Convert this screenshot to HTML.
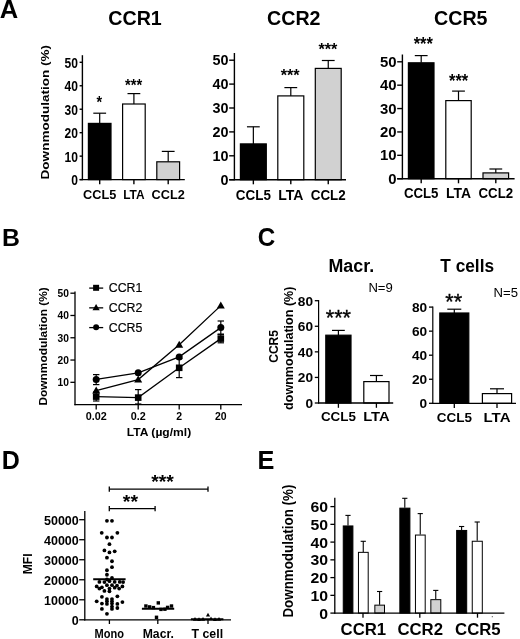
<!DOCTYPE html>
<html>
<head>
<meta charset="utf-8">
<title>Figure</title>
<style>
html, body { margin: 0; padding: 0; background: #ffffff; }
body { width: 520px; height: 639px; overflow: hidden; font-family: "Liberation Sans", sans-serif; }
svg { display: block; font-family: "Liberation Sans", sans-serif; filter: blur(0.5px); }
</style>
</head>
<body>
<svg width="520" height="639" viewBox="0 0 520 639">
<rect x="0" y="0" width="520" height="639" fill="#ffffff"/>
<text x="-0.20" y="17.50" font-size="25.5" font-weight="bold" text-anchor="start" fill="#000">A</text>
<text x="1.90" y="245.90" font-size="24.8" font-weight="bold" text-anchor="start" fill="#000">B</text>
<text x="257.70" y="245.60" font-size="25" font-weight="bold" text-anchor="start" fill="#000" textLength="17.50" lengthAdjust="spacingAndGlyphs">C</text>
<text x="1.80" y="468.50" font-size="25" font-weight="bold" text-anchor="start" fill="#000">D</text>
<text x="257.50" y="468.80" font-size="25.3" font-weight="bold" text-anchor="start" fill="#000">E</text>
<line x1="99.70" y1="113.20" x2="99.70" y2="123.40" stroke="#000" stroke-width="1.2"/>
<line x1="93.30" y1="113.20" x2="106.10" y2="113.20" stroke="#000" stroke-width="1.2"/>
<line x1="133.90" y1="93.60" x2="133.90" y2="104.00" stroke="#000" stroke-width="1.2"/>
<line x1="127.50" y1="93.60" x2="140.30" y2="93.60" stroke="#000" stroke-width="1.2"/>
<line x1="168.20" y1="151.40" x2="168.20" y2="161.80" stroke="#000" stroke-width="1.2"/>
<line x1="161.80" y1="151.40" x2="174.60" y2="151.40" stroke="#000" stroke-width="1.2"/>
<rect x="88.40" y="123.40" width="22.60" height="56.20" fill="#000" stroke="#000" stroke-width="1.2"/>
<rect x="122.60" y="104.00" width="22.60" height="75.60" fill="#fff" stroke="#000" stroke-width="1.2"/>
<rect x="156.80" y="161.80" width="22.80" height="17.80" fill="#d1d1d1" stroke="#000" stroke-width="1.2"/>
<line x1="82.40" y1="55.20" x2="82.40" y2="180.20" stroke="#000" stroke-width="1.4"/>
<line x1="79.60" y1="179.60" x2="184.80" y2="179.60" stroke="#000" stroke-width="1.4"/>
<line x1="79.60" y1="179.60" x2="82.40" y2="179.60" stroke="#000" stroke-width="1.4"/>
<text x="78.00" y="185.00" font-size="15" font-weight="bold" text-anchor="end" fill="#000" textLength="6.70" lengthAdjust="spacingAndGlyphs">0</text>
<line x1="79.60" y1="156.14" x2="82.40" y2="156.14" stroke="#000" stroke-width="1.4"/>
<text x="78.00" y="161.54" font-size="15" font-weight="bold" text-anchor="end" fill="#000" textLength="13.40" lengthAdjust="spacingAndGlyphs">10</text>
<line x1="79.60" y1="132.68" x2="82.40" y2="132.68" stroke="#000" stroke-width="1.4"/>
<text x="78.00" y="138.08" font-size="15" font-weight="bold" text-anchor="end" fill="#000" textLength="13.40" lengthAdjust="spacingAndGlyphs">20</text>
<line x1="79.60" y1="109.22" x2="82.40" y2="109.22" stroke="#000" stroke-width="1.4"/>
<text x="78.00" y="114.62" font-size="15" font-weight="bold" text-anchor="end" fill="#000" textLength="13.40" lengthAdjust="spacingAndGlyphs">30</text>
<line x1="79.60" y1="85.76" x2="82.40" y2="85.76" stroke="#000" stroke-width="1.4"/>
<text x="78.00" y="91.16" font-size="15" font-weight="bold" text-anchor="end" fill="#000" textLength="13.40" lengthAdjust="spacingAndGlyphs">40</text>
<line x1="79.60" y1="62.30" x2="82.40" y2="62.30" stroke="#000" stroke-width="1.4"/>
<text x="78.00" y="67.70" font-size="15" font-weight="bold" text-anchor="end" fill="#000" textLength="13.40" lengthAdjust="spacingAndGlyphs">50</text>
<line x1="99.70" y1="179.60" x2="99.70" y2="184.20" stroke="#000" stroke-width="1.4"/>
<text x="99.70" y="198.60" font-size="13.3" font-weight="bold" text-anchor="middle" fill="#000" textLength="33.20" lengthAdjust="spacingAndGlyphs">CCL5</text>
<line x1="133.90" y1="179.60" x2="133.90" y2="184.20" stroke="#000" stroke-width="1.4"/>
<text x="133.90" y="198.60" font-size="13.3" font-weight="bold" text-anchor="middle" fill="#000" textLength="21.40" lengthAdjust="spacingAndGlyphs">LTA</text>
<line x1="168.20" y1="179.60" x2="168.20" y2="184.20" stroke="#000" stroke-width="1.4"/>
<text x="168.20" y="198.60" font-size="13.3" font-weight="bold" text-anchor="middle" fill="#000" textLength="33.20" lengthAdjust="spacingAndGlyphs">CCL2</text>
<text x="135.00" y="25.00" font-size="21" font-weight="bold" text-anchor="middle" fill="#000" textLength="53.50" lengthAdjust="spacingAndGlyphs">CCR1</text>
<text x="99.30" y="108.20" font-size="16" font-weight="bold" text-anchor="middle" fill="#000" textLength="5.60" lengthAdjust="spacingAndGlyphs">*</text>
<text x="133.60" y="91.20" font-size="16" font-weight="bold" text-anchor="middle" fill="#000" textLength="17.20" lengthAdjust="spacingAndGlyphs">***</text>
<line x1="253.35" y1="126.80" x2="253.35" y2="143.90" stroke="#000" stroke-width="1.2"/>
<line x1="246.95" y1="126.80" x2="259.75" y2="126.80" stroke="#000" stroke-width="1.2"/>
<line x1="290.80" y1="87.60" x2="290.80" y2="95.90" stroke="#000" stroke-width="1.2"/>
<line x1="284.40" y1="87.60" x2="297.20" y2="87.60" stroke="#000" stroke-width="1.2"/>
<line x1="328.25" y1="60.50" x2="328.25" y2="68.40" stroke="#000" stroke-width="1.2"/>
<line x1="321.85" y1="60.50" x2="334.65" y2="60.50" stroke="#000" stroke-width="1.2"/>
<rect x="240.40" y="143.90" width="25.90" height="35.80" fill="#000" stroke="#000" stroke-width="1.2"/>
<rect x="277.80" y="95.90" width="26.00" height="83.80" fill="#fff" stroke="#000" stroke-width="1.2"/>
<rect x="315.30" y="68.40" width="25.90" height="111.30" fill="#d1d1d1" stroke="#000" stroke-width="1.2"/>
<line x1="234.40" y1="53.00" x2="234.40" y2="180.30" stroke="#000" stroke-width="1.4"/>
<line x1="229.20" y1="179.70" x2="346.00" y2="179.70" stroke="#000" stroke-width="1.4"/>
<line x1="229.20" y1="179.70" x2="234.40" y2="179.70" stroke="#000" stroke-width="1.4"/>
<text x="228.40" y="184.74" font-size="14" font-weight="bold" text-anchor="end" fill="#000" textLength="8.00" lengthAdjust="spacingAndGlyphs">0</text>
<line x1="229.20" y1="155.80" x2="234.40" y2="155.80" stroke="#000" stroke-width="1.4"/>
<text x="228.40" y="160.84" font-size="14" font-weight="bold" text-anchor="end" fill="#000" textLength="16.00" lengthAdjust="spacingAndGlyphs">10</text>
<line x1="229.20" y1="131.90" x2="234.40" y2="131.90" stroke="#000" stroke-width="1.4"/>
<text x="228.40" y="136.94" font-size="14" font-weight="bold" text-anchor="end" fill="#000" textLength="16.00" lengthAdjust="spacingAndGlyphs">20</text>
<line x1="229.20" y1="108.00" x2="234.40" y2="108.00" stroke="#000" stroke-width="1.4"/>
<text x="228.40" y="113.04" font-size="14" font-weight="bold" text-anchor="end" fill="#000" textLength="16.00" lengthAdjust="spacingAndGlyphs">30</text>
<line x1="229.20" y1="84.10" x2="234.40" y2="84.10" stroke="#000" stroke-width="1.4"/>
<text x="228.40" y="89.14" font-size="14" font-weight="bold" text-anchor="end" fill="#000" textLength="16.00" lengthAdjust="spacingAndGlyphs">40</text>
<line x1="229.20" y1="60.20" x2="234.40" y2="60.20" stroke="#000" stroke-width="1.4"/>
<text x="228.40" y="65.24" font-size="14" font-weight="bold" text-anchor="end" fill="#000" textLength="16.00" lengthAdjust="spacingAndGlyphs">50</text>
<line x1="253.35" y1="179.70" x2="253.35" y2="184.30" stroke="#000" stroke-width="1.4"/>
<text x="253.35" y="200.00" font-size="14" font-weight="bold" text-anchor="middle" fill="#000" textLength="35.00" lengthAdjust="spacingAndGlyphs">CCL5</text>
<line x1="290.80" y1="179.70" x2="290.80" y2="184.30" stroke="#000" stroke-width="1.4"/>
<text x="290.80" y="200.00" font-size="14" font-weight="bold" text-anchor="middle" fill="#000" textLength="25.20" lengthAdjust="spacingAndGlyphs">LTA</text>
<line x1="328.25" y1="179.70" x2="328.25" y2="184.30" stroke="#000" stroke-width="1.4"/>
<text x="328.25" y="200.00" font-size="14" font-weight="bold" text-anchor="middle" fill="#000" textLength="35.00" lengthAdjust="spacingAndGlyphs">CCL2</text>
<text x="293.80" y="25.00" font-size="21" font-weight="bold" text-anchor="middle" fill="#000" textLength="53.50" lengthAdjust="spacingAndGlyphs">CCR2</text>
<text x="290.20" y="81.30" font-size="17" font-weight="bold" text-anchor="middle" fill="#000" textLength="19.00" lengthAdjust="spacingAndGlyphs">***</text>
<text x="327.90" y="54.50" font-size="17" font-weight="bold" text-anchor="middle" fill="#000" textLength="19.00" lengthAdjust="spacingAndGlyphs">***</text>
<line x1="421.20" y1="55.60" x2="421.20" y2="62.80" stroke="#000" stroke-width="1.2"/>
<line x1="414.80" y1="55.60" x2="427.60" y2="55.60" stroke="#000" stroke-width="1.2"/>
<line x1="458.50" y1="91.10" x2="458.50" y2="100.60" stroke="#000" stroke-width="1.2"/>
<line x1="452.10" y1="91.10" x2="464.90" y2="91.10" stroke="#000" stroke-width="1.2"/>
<line x1="495.80" y1="169.00" x2="495.80" y2="172.90" stroke="#000" stroke-width="1.2"/>
<line x1="489.40" y1="169.00" x2="502.20" y2="169.00" stroke="#000" stroke-width="1.2"/>
<rect x="408.40" y="62.80" width="25.60" height="115.90" fill="#000" stroke="#000" stroke-width="1.2"/>
<rect x="445.80" y="100.60" width="25.40" height="78.10" fill="#fff" stroke="#000" stroke-width="1.2"/>
<rect x="483.00" y="172.90" width="25.60" height="5.80" fill="#d1d1d1" stroke="#000" stroke-width="1.2"/>
<line x1="402.40" y1="54.50" x2="402.40" y2="179.30" stroke="#000" stroke-width="1.4"/>
<line x1="397.20" y1="178.70" x2="514.60" y2="178.70" stroke="#000" stroke-width="1.4"/>
<line x1="397.20" y1="178.70" x2="402.40" y2="178.70" stroke="#000" stroke-width="1.4"/>
<text x="396.60" y="183.74" font-size="14" font-weight="bold" text-anchor="end" fill="#000" textLength="8.30" lengthAdjust="spacingAndGlyphs">0</text>
<line x1="397.20" y1="155.32" x2="402.40" y2="155.32" stroke="#000" stroke-width="1.4"/>
<text x="396.60" y="160.36" font-size="14" font-weight="bold" text-anchor="end" fill="#000" textLength="16.60" lengthAdjust="spacingAndGlyphs">10</text>
<line x1="397.20" y1="131.94" x2="402.40" y2="131.94" stroke="#000" stroke-width="1.4"/>
<text x="396.60" y="136.98" font-size="14" font-weight="bold" text-anchor="end" fill="#000" textLength="16.60" lengthAdjust="spacingAndGlyphs">20</text>
<line x1="397.20" y1="108.56" x2="402.40" y2="108.56" stroke="#000" stroke-width="1.4"/>
<text x="396.60" y="113.60" font-size="14" font-weight="bold" text-anchor="end" fill="#000" textLength="16.60" lengthAdjust="spacingAndGlyphs">30</text>
<line x1="397.20" y1="85.18" x2="402.40" y2="85.18" stroke="#000" stroke-width="1.4"/>
<text x="396.60" y="90.22" font-size="14" font-weight="bold" text-anchor="end" fill="#000" textLength="16.60" lengthAdjust="spacingAndGlyphs">40</text>
<line x1="397.20" y1="61.80" x2="402.40" y2="61.80" stroke="#000" stroke-width="1.4"/>
<text x="396.60" y="66.84" font-size="14" font-weight="bold" text-anchor="end" fill="#000" textLength="16.60" lengthAdjust="spacingAndGlyphs">50</text>
<line x1="421.20" y1="178.70" x2="421.20" y2="183.30" stroke="#000" stroke-width="1.4"/>
<text x="421.20" y="198.20" font-size="14" font-weight="bold" text-anchor="middle" fill="#000" textLength="34.60" lengthAdjust="spacingAndGlyphs">CCL5</text>
<line x1="458.50" y1="178.70" x2="458.50" y2="183.30" stroke="#000" stroke-width="1.4"/>
<text x="458.50" y="198.20" font-size="14" font-weight="bold" text-anchor="middle" fill="#000" textLength="25.00" lengthAdjust="spacingAndGlyphs">LTA</text>
<line x1="495.80" y1="178.70" x2="495.80" y2="183.30" stroke="#000" stroke-width="1.4"/>
<text x="495.80" y="198.20" font-size="14" font-weight="bold" text-anchor="middle" fill="#000" textLength="34.60" lengthAdjust="spacingAndGlyphs">CCL2</text>
<text x="460.80" y="25.00" font-size="21" font-weight="bold" text-anchor="middle" fill="#000" textLength="53.50" lengthAdjust="spacingAndGlyphs">CCR5</text>
<text x="423.30" y="49.50" font-size="17.5" font-weight="bold" text-anchor="middle" fill="#000" textLength="19.20" lengthAdjust="spacingAndGlyphs">***</text>
<text x="458.60" y="86.60" font-size="17.5" font-weight="bold" text-anchor="middle" fill="#000" textLength="19.20" lengthAdjust="spacingAndGlyphs">***</text>
<text x="49.00" y="179.40" font-size="11.5" font-weight="bold" text-anchor="start" fill="#000" textLength="134.40" lengthAdjust="spacingAndGlyphs" transform="rotate(-90 49.00 179.40)">Downmodulation (%)</text>
<line x1="75.00" y1="291.60" x2="75.00" y2="405.20" stroke="#000" stroke-width="1.3"/>
<line x1="74.40" y1="404.60" x2="242.00" y2="404.60" stroke="#000" stroke-width="1.3"/>
<line x1="70.40" y1="382.32" x2="75.00" y2="382.32" stroke="#000" stroke-width="1.3"/>
<text x="69.00" y="386.12" font-size="10.5" font-weight="bold" text-anchor="end" fill="#000" textLength="11.40" lengthAdjust="spacingAndGlyphs">10</text>
<line x1="70.40" y1="360.04" x2="75.00" y2="360.04" stroke="#000" stroke-width="1.3"/>
<text x="69.00" y="363.84" font-size="10.5" font-weight="bold" text-anchor="end" fill="#000" textLength="11.40" lengthAdjust="spacingAndGlyphs">20</text>
<line x1="70.40" y1="337.76" x2="75.00" y2="337.76" stroke="#000" stroke-width="1.3"/>
<text x="69.00" y="341.56" font-size="10.5" font-weight="bold" text-anchor="end" fill="#000" textLength="11.40" lengthAdjust="spacingAndGlyphs">30</text>
<line x1="70.40" y1="315.48" x2="75.00" y2="315.48" stroke="#000" stroke-width="1.3"/>
<text x="69.00" y="319.28" font-size="10.5" font-weight="bold" text-anchor="end" fill="#000" textLength="11.40" lengthAdjust="spacingAndGlyphs">40</text>
<line x1="70.40" y1="293.20" x2="75.00" y2="293.20" stroke="#000" stroke-width="1.3"/>
<text x="69.00" y="297.00" font-size="10.5" font-weight="bold" text-anchor="end" fill="#000" textLength="11.40" lengthAdjust="spacingAndGlyphs">50</text>
<line x1="96.20" y1="404.60" x2="96.20" y2="409.40" stroke="#000" stroke-width="1.3"/>
<text x="96.20" y="420.20" font-size="10.5" font-weight="bold" text-anchor="middle" fill="#000" textLength="21.00" lengthAdjust="spacingAndGlyphs">0.02</text>
<line x1="138.20" y1="404.60" x2="138.20" y2="409.40" stroke="#000" stroke-width="1.3"/>
<text x="138.20" y="420.20" font-size="10.5" font-weight="bold" text-anchor="middle" fill="#000" textLength="15.00" lengthAdjust="spacingAndGlyphs">0.2</text>
<line x1="179.20" y1="404.60" x2="179.20" y2="409.40" stroke="#000" stroke-width="1.3"/>
<text x="179.20" y="420.20" font-size="10.5" font-weight="bold" text-anchor="middle" fill="#000">2</text>
<line x1="220.80" y1="404.60" x2="220.80" y2="409.40" stroke="#000" stroke-width="1.3"/>
<text x="220.80" y="420.20" font-size="10.5" font-weight="bold" text-anchor="middle" fill="#000" textLength="11.60" lengthAdjust="spacingAndGlyphs">20</text>
<text x="159.00" y="436.20" font-size="11.8" font-weight="bold" text-anchor="middle" fill="#000" textLength="64.40" lengthAdjust="spacingAndGlyphs">LTA (µg/ml)</text>
<text x="47.20" y="405.60" font-size="11.6" font-weight="bold" text-anchor="start" fill="#000" textLength="118.40" lengthAdjust="spacingAndGlyphs" transform="rotate(-90 47.20 405.60)">Downmodulation (%)</text>
<line x1="96.20" y1="374.60" x2="96.20" y2="384.60" stroke="#000" stroke-width="1.2"/>
<line x1="93.00" y1="374.60" x2="99.40" y2="374.60" stroke="#000" stroke-width="1.2"/>
<line x1="93.00" y1="384.60" x2="99.40" y2="384.60" stroke="#000" stroke-width="1.2"/>
<line x1="96.20" y1="392.00" x2="96.20" y2="401.00" stroke="#000" stroke-width="1.2"/>
<line x1="93.00" y1="392.00" x2="99.40" y2="392.00" stroke="#000" stroke-width="1.2"/>
<line x1="93.00" y1="401.00" x2="99.40" y2="401.00" stroke="#000" stroke-width="1.2"/>
<line x1="138.20" y1="389.60" x2="138.20" y2="404.00" stroke="#000" stroke-width="1.2"/>
<line x1="135.00" y1="389.60" x2="141.40" y2="389.60" stroke="#000" stroke-width="1.2"/>
<line x1="135.00" y1="404.00" x2="141.40" y2="404.00" stroke="#000" stroke-width="1.2"/>
<line x1="179.20" y1="358.60" x2="179.20" y2="377.60" stroke="#000" stroke-width="1.2"/>
<line x1="176.00" y1="358.60" x2="182.40" y2="358.60" stroke="#000" stroke-width="1.2"/>
<line x1="176.00" y1="377.60" x2="182.40" y2="377.60" stroke="#000" stroke-width="1.2"/>
<line x1="220.80" y1="321.00" x2="220.80" y2="334.20" stroke="#000" stroke-width="1.2"/>
<line x1="217.60" y1="321.00" x2="224.00" y2="321.00" stroke="#000" stroke-width="1.2"/>
<line x1="217.60" y1="334.20" x2="224.00" y2="334.20" stroke="#000" stroke-width="1.2"/>
<line x1="220.80" y1="334.40" x2="220.80" y2="342.80" stroke="#000" stroke-width="1.2"/>
<line x1="217.60" y1="334.40" x2="224.00" y2="334.40" stroke="#000" stroke-width="1.2"/>
<line x1="217.60" y1="342.80" x2="224.00" y2="342.80" stroke="#000" stroke-width="1.2"/>
<polyline fill="none" stroke="#000" stroke-width="1.3" points="96.20,396.60 138.20,397.60 179.20,367.80 220.80,338.60"/>
<polyline fill="none" stroke="#000" stroke-width="1.3" points="96.20,390.60 138.20,379.60 179.20,344.80 220.80,305.60"/>
<polyline fill="none" stroke="#000" stroke-width="1.3" points="96.20,379.40 138.20,372.80 179.20,356.90 220.80,327.60"/>
<rect x="92.90" y="393.30" width="6.60" height="6.60" fill="#000"/>
<rect x="134.90" y="394.30" width="6.60" height="6.60" fill="#000"/>
<rect x="175.90" y="364.50" width="6.60" height="6.60" fill="#000"/>
<rect x="217.50" y="335.30" width="6.60" height="6.60" fill="#000"/>
<polygon points="96.20,386.60 92.20,393.60 100.20,393.60" fill="#000"/>
<polygon points="138.20,375.60 134.20,382.60 142.20,382.60" fill="#000"/>
<polygon points="179.20,340.80 175.20,347.80 183.20,347.80" fill="#000"/>
<polygon points="220.80,301.60 216.80,308.60 224.80,308.60" fill="#000"/>
<circle cx="96.20" cy="379.40" r="3.5" fill="#000"/>
<circle cx="138.20" cy="372.80" r="3.5" fill="#000"/>
<circle cx="179.20" cy="356.90" r="3.5" fill="#000"/>
<circle cx="220.80" cy="327.60" r="3.5" fill="#000"/>
<line x1="89.20" y1="288.10" x2="103.20" y2="288.10" stroke="#000" stroke-width="1.3"/>
<rect x="93.10" y="284.80" width="6.00" height="6.00" fill="#000"/>
<text x="108.80" y="292.10" font-size="12.3" font-weight="normal" text-anchor="start" fill="#000" textLength="33.60" lengthAdjust="spacingAndGlyphs" stroke="#000" stroke-width="0.2">CCR1</text>
<line x1="89.20" y1="307.85" x2="103.20" y2="307.85" stroke="#000" stroke-width="1.3"/>
<polygon points="96.10,303.95 92.50,310.25 99.70,310.25" fill="#000"/>
<text x="108.80" y="311.85" font-size="12.3" font-weight="normal" text-anchor="start" fill="#000" textLength="33.60" lengthAdjust="spacingAndGlyphs" stroke="#000" stroke-width="0.2">CCR2</text>
<line x1="89.20" y1="327.60" x2="103.20" y2="327.60" stroke="#000" stroke-width="1.3"/>
<circle cx="96.10" cy="327.30" r="3.0" fill="#000"/>
<text x="108.80" y="331.60" font-size="12.3" font-weight="normal" text-anchor="start" fill="#000" textLength="33.60" lengthAdjust="spacingAndGlyphs" stroke="#000" stroke-width="0.2">CCR5</text>
<line x1="338.40" y1="330.40" x2="338.40" y2="335.20" stroke="#000" stroke-width="1.2"/>
<line x1="332.00" y1="330.40" x2="344.80" y2="330.40" stroke="#000" stroke-width="1.2"/>
<line x1="376.40" y1="375.50" x2="376.40" y2="381.60" stroke="#000" stroke-width="1.2"/>
<line x1="370.00" y1="375.50" x2="382.80" y2="375.50" stroke="#000" stroke-width="1.2"/>
<rect x="325.80" y="335.20" width="25.20" height="67.80" fill="#000" stroke="#000" stroke-width="1.2"/>
<rect x="363.80" y="381.60" width="25.20" height="21.40" fill="#fff" stroke="#000" stroke-width="1.2"/>
<line x1="318.60" y1="300.10" x2="318.60" y2="403.60" stroke="#000" stroke-width="1.2"/>
<line x1="318.00" y1="403.00" x2="393.20" y2="403.00" stroke="#000" stroke-width="1.3"/>
<line x1="314.80" y1="403.00" x2="318.60" y2="403.00" stroke="#000" stroke-width="1.3"/>
<text x="313.00" y="407.80" font-size="13.2" font-weight="bold" text-anchor="end" fill="#000" textLength="7.60" lengthAdjust="spacingAndGlyphs">0</text>
<line x1="314.80" y1="377.43" x2="318.60" y2="377.43" stroke="#000" stroke-width="1.3"/>
<text x="313.00" y="382.23" font-size="13.2" font-weight="bold" text-anchor="end" fill="#000" textLength="15.20" lengthAdjust="spacingAndGlyphs">20</text>
<line x1="314.80" y1="351.85" x2="318.60" y2="351.85" stroke="#000" stroke-width="1.3"/>
<text x="313.00" y="356.65" font-size="13.2" font-weight="bold" text-anchor="end" fill="#000" textLength="15.20" lengthAdjust="spacingAndGlyphs">40</text>
<line x1="314.80" y1="326.27" x2="318.60" y2="326.27" stroke="#000" stroke-width="1.3"/>
<text x="313.00" y="331.07" font-size="13.2" font-weight="bold" text-anchor="end" fill="#000" textLength="15.20" lengthAdjust="spacingAndGlyphs">60</text>
<line x1="314.80" y1="300.70" x2="318.60" y2="300.70" stroke="#000" stroke-width="1.3"/>
<text x="313.00" y="305.50" font-size="13.2" font-weight="bold" text-anchor="end" fill="#000" textLength="15.20" lengthAdjust="spacingAndGlyphs">80</text>
<line x1="338.40" y1="403.00" x2="338.40" y2="407.80" stroke="#000" stroke-width="1.3"/>
<text x="338.40" y="421.20" font-size="12.3" font-weight="bold" text-anchor="middle" fill="#000" textLength="35.00" lengthAdjust="spacingAndGlyphs">CCL5</text>
<line x1="376.40" y1="403.00" x2="376.40" y2="407.80" stroke="#000" stroke-width="1.3"/>
<text x="376.40" y="421.20" font-size="12.3" font-weight="bold" text-anchor="middle" fill="#000" textLength="26.50" lengthAdjust="spacingAndGlyphs">LTA</text>
<text x="351.30" y="272.30" font-size="17.6" font-weight="bold" text-anchor="middle" fill="#000" textLength="45.60" lengthAdjust="spacingAndGlyphs">Macr.</text>
<text x="368.40" y="291.80" font-size="12.2" font-weight="normal" text-anchor="start" fill="#000" textLength="24.40" lengthAdjust="spacingAndGlyphs">N=9</text>
<text x="338.40" y="324.60" font-size="22" font-weight="normal" text-anchor="middle" fill="#000" textLength="25.20" lengthAdjust="spacingAndGlyphs" stroke="#000" stroke-width="0.35">***</text>
<line x1="454.30" y1="309.20" x2="454.30" y2="313.00" stroke="#000" stroke-width="1.2"/>
<line x1="447.30" y1="309.20" x2="461.30" y2="309.20" stroke="#000" stroke-width="1.2"/>
<line x1="497.00" y1="388.80" x2="497.00" y2="393.60" stroke="#000" stroke-width="1.2"/>
<line x1="490.00" y1="388.80" x2="504.00" y2="388.80" stroke="#000" stroke-width="1.2"/>
<rect x="439.80" y="313.00" width="29.00" height="90.30" fill="#000" stroke="#000" stroke-width="1.2"/>
<rect x="482.40" y="393.60" width="29.20" height="9.70" fill="#fff" stroke="#000" stroke-width="1.2"/>
<line x1="432.80" y1="306.50" x2="432.80" y2="403.90" stroke="#000" stroke-width="1.2"/>
<line x1="432.20" y1="403.30" x2="516.00" y2="403.30" stroke="#000" stroke-width="1.3"/>
<line x1="429.00" y1="403.30" x2="432.80" y2="403.30" stroke="#000" stroke-width="1.3"/>
<text x="427.20" y="408.10" font-size="13.2" font-weight="bold" text-anchor="end" fill="#000" textLength="7.60" lengthAdjust="spacingAndGlyphs">0</text>
<line x1="429.00" y1="379.25" x2="432.80" y2="379.25" stroke="#000" stroke-width="1.3"/>
<text x="427.20" y="384.05" font-size="13.2" font-weight="bold" text-anchor="end" fill="#000" textLength="15.20" lengthAdjust="spacingAndGlyphs">20</text>
<line x1="429.00" y1="355.20" x2="432.80" y2="355.20" stroke="#000" stroke-width="1.3"/>
<text x="427.20" y="360.00" font-size="13.2" font-weight="bold" text-anchor="end" fill="#000" textLength="15.20" lengthAdjust="spacingAndGlyphs">40</text>
<line x1="429.00" y1="331.15" x2="432.80" y2="331.15" stroke="#000" stroke-width="1.3"/>
<text x="427.20" y="335.95" font-size="13.2" font-weight="bold" text-anchor="end" fill="#000" textLength="15.20" lengthAdjust="spacingAndGlyphs">60</text>
<line x1="429.00" y1="307.10" x2="432.80" y2="307.10" stroke="#000" stroke-width="1.3"/>
<text x="427.20" y="311.90" font-size="13.2" font-weight="bold" text-anchor="end" fill="#000" textLength="15.20" lengthAdjust="spacingAndGlyphs">80</text>
<line x1="454.30" y1="403.30" x2="454.30" y2="408.10" stroke="#000" stroke-width="1.3"/>
<text x="454.30" y="421.50" font-size="12.3" font-weight="bold" text-anchor="middle" fill="#000" textLength="35.20" lengthAdjust="spacingAndGlyphs">CCL5</text>
<line x1="497.00" y1="403.30" x2="497.00" y2="408.10" stroke="#000" stroke-width="1.3"/>
<text x="497.00" y="421.50" font-size="12.3" font-weight="bold" text-anchor="middle" fill="#000" textLength="27.00" lengthAdjust="spacingAndGlyphs">LTA</text>
<text x="467.20" y="272.30" font-size="17.6" font-weight="bold" text-anchor="middle" fill="#000" textLength="53.80" lengthAdjust="spacingAndGlyphs">T cells</text>
<text x="493.60" y="296.50" font-size="12.2" font-weight="normal" text-anchor="start" fill="#000" textLength="24.40" lengthAdjust="spacingAndGlyphs">N=5</text>
<text x="453.70" y="308.80" font-size="22" font-weight="normal" text-anchor="middle" fill="#000" textLength="16.80" lengthAdjust="spacingAndGlyphs" stroke="#000" stroke-width="0.35">**</text>
<text x="277.90" y="362.80" font-size="12" font-weight="bold" text-anchor="start" fill="#000" textLength="32.80" lengthAdjust="spacingAndGlyphs" transform="rotate(-90 277.90 362.80)">CCR5</text>
<text x="292.60" y="409.90" font-size="13" font-weight="bold" text-anchor="start" fill="#000" textLength="123.30" lengthAdjust="spacingAndGlyphs" transform="rotate(-90 292.60 409.90)">downmodulation (%)</text>
<line x1="84.80" y1="511.00" x2="84.80" y2="620.40" stroke="#000" stroke-width="1.3"/>
<line x1="84.20" y1="619.80" x2="231.00" y2="619.80" stroke="#000" stroke-width="1.3"/>
<line x1="79.20" y1="619.80" x2="84.80" y2="619.80" stroke="#000" stroke-width="1.3"/>
<text x="78.80" y="624.70" font-size="13.6" font-weight="bold" text-anchor="end" fill="#000" textLength="6.96" lengthAdjust="spacingAndGlyphs">0</text>
<line x1="79.20" y1="599.78" x2="84.80" y2="599.78" stroke="#000" stroke-width="1.3"/>
<text x="78.80" y="604.68" font-size="13.6" font-weight="bold" text-anchor="end" fill="#000" textLength="34.80" lengthAdjust="spacingAndGlyphs">10000</text>
<line x1="79.20" y1="579.76" x2="84.80" y2="579.76" stroke="#000" stroke-width="1.3"/>
<text x="78.80" y="584.66" font-size="13.6" font-weight="bold" text-anchor="end" fill="#000" textLength="34.80" lengthAdjust="spacingAndGlyphs">20000</text>
<line x1="79.20" y1="559.74" x2="84.80" y2="559.74" stroke="#000" stroke-width="1.3"/>
<text x="78.80" y="564.64" font-size="13.6" font-weight="bold" text-anchor="end" fill="#000" textLength="34.80" lengthAdjust="spacingAndGlyphs">30000</text>
<line x1="79.20" y1="539.72" x2="84.80" y2="539.72" stroke="#000" stroke-width="1.3"/>
<text x="78.80" y="544.62" font-size="13.6" font-weight="bold" text-anchor="end" fill="#000" textLength="34.80" lengthAdjust="spacingAndGlyphs">40000</text>
<line x1="79.20" y1="519.70" x2="84.80" y2="519.70" stroke="#000" stroke-width="1.3"/>
<text x="78.80" y="524.60" font-size="13.6" font-weight="bold" text-anchor="end" fill="#000" textLength="34.80" lengthAdjust="spacingAndGlyphs">50000</text>
<line x1="109.40" y1="619.80" x2="109.40" y2="624.00" stroke="#000" stroke-width="1.3"/>
<text x="109.30" y="637.50" font-size="13" font-weight="bold" text-anchor="middle" fill="#000" textLength="29.40" lengthAdjust="spacingAndGlyphs">Mono</text>
<line x1="157.80" y1="619.80" x2="157.80" y2="624.00" stroke="#000" stroke-width="1.3"/>
<text x="158.30" y="637.50" font-size="13" font-weight="bold" text-anchor="middle" fill="#000" textLength="31.20" lengthAdjust="spacingAndGlyphs">Macr.</text>
<line x1="208.00" y1="619.80" x2="208.00" y2="624.00" stroke="#000" stroke-width="1.3"/>
<text x="207.30" y="637.50" font-size="13" font-weight="bold" text-anchor="middle" fill="#000" textLength="31.60" lengthAdjust="spacingAndGlyphs">T cell</text>
<text x="31.60" y="563.80" font-size="12.3" font-weight="bold" text-anchor="middle" fill="#000" textLength="20.80" lengthAdjust="spacingAndGlyphs" transform="rotate(-90 31.60 563.80)">MFI</text>
<line x1="109.30" y1="489.10" x2="208.00" y2="489.10" stroke="#000" stroke-width="1.4"/>
<line x1="109.30" y1="486.50" x2="109.30" y2="491.70" stroke="#000" stroke-width="1.3"/>
<line x1="208.00" y1="486.50" x2="208.00" y2="491.70" stroke="#000" stroke-width="1.3"/>
<line x1="109.30" y1="508.60" x2="155.10" y2="508.60" stroke="#000" stroke-width="1.4"/>
<line x1="109.30" y1="506.00" x2="109.30" y2="511.20" stroke="#000" stroke-width="1.3"/>
<line x1="155.10" y1="506.00" x2="155.10" y2="511.20" stroke="#000" stroke-width="1.3"/>
<text x="162.60" y="488.40" font-size="19" font-weight="bold" text-anchor="middle" fill="#000" textLength="22.60" lengthAdjust="spacingAndGlyphs">***</text>
<text x="130.40" y="508.20" font-size="19" font-weight="bold" text-anchor="middle" fill="#000" textLength="15.20" lengthAdjust="spacingAndGlyphs">**</text>
<circle cx="106.94" cy="520.79" r="1.9" fill="#000"/>
<circle cx="111.98" cy="520.79" r="1.9" fill="#000"/>
<circle cx="101.73" cy="532.84" r="1.9" fill="#000"/>
<circle cx="117.37" cy="532.84" r="1.9" fill="#000"/>
<circle cx="106.94" cy="537.52" r="1.9" fill="#000"/>
<circle cx="111.98" cy="537.52" r="1.9" fill="#000"/>
<circle cx="109.46" cy="544.17" r="1.9" fill="#000"/>
<circle cx="104.42" cy="550.47" r="1.9" fill="#000"/>
<circle cx="114.68" cy="551.37" r="1.9" fill="#000"/>
<circle cx="109.46" cy="552.45" r="1.9" fill="#000"/>
<circle cx="106.94" cy="557.66" r="1.9" fill="#000"/>
<circle cx="111.98" cy="561.26" r="1.9" fill="#000"/>
<circle cx="111.98" cy="567.19" r="1.9" fill="#000"/>
<circle cx="106.94" cy="570.25" r="1.9" fill="#000"/>
<circle cx="106.94" cy="574.75" r="1.9" fill="#000"/>
<circle cx="111.98" cy="577.99" r="1.9" fill="#000"/>
<circle cx="106.94" cy="579.42" r="1.9" fill="#000"/>
<circle cx="99.39" cy="581.94" r="1.9" fill="#000"/>
<circle cx="104.42" cy="582.12" r="1.9" fill="#000"/>
<circle cx="109.46" cy="581.22" r="1.9" fill="#000"/>
<circle cx="114.68" cy="581.94" r="1.9" fill="#000"/>
<circle cx="119.71" cy="581.94" r="1.9" fill="#000"/>
<circle cx="123.13" cy="582.12" r="1.9" fill="#000"/>
<circle cx="96.69" cy="586.44" r="1.9" fill="#000"/>
<circle cx="106.94" cy="585.18" r="1.9" fill="#000"/>
<circle cx="111.98" cy="585.18" r="1.9" fill="#000"/>
<circle cx="117.01" cy="585.72" r="1.9" fill="#000"/>
<circle cx="122.41" cy="586.44" r="1.9" fill="#000"/>
<circle cx="99.39" cy="588.60" r="1.9" fill="#000"/>
<circle cx="101.91" cy="587.34" r="1.9" fill="#000"/>
<circle cx="109.46" cy="588.60" r="1.9" fill="#000"/>
<circle cx="114.68" cy="587.70" r="1.9" fill="#000"/>
<circle cx="119.17" cy="588.60" r="1.9" fill="#000"/>
<circle cx="104.42" cy="590.94" r="1.9" fill="#000"/>
<circle cx="109.46" cy="591.29" r="1.9" fill="#000"/>
<circle cx="101.91" cy="596.87" r="1.9" fill="#000"/>
<circle cx="117.37" cy="596.33" r="1.9" fill="#000"/>
<circle cx="106.94" cy="599.03" r="1.9" fill="#000"/>
<circle cx="111.98" cy="599.03" r="1.9" fill="#000"/>
<circle cx="96.69" cy="601.37" r="1.9" fill="#000"/>
<circle cx="106.94" cy="601.37" r="1.9" fill="#000"/>
<circle cx="111.98" cy="601.37" r="1.9" fill="#000"/>
<circle cx="122.41" cy="602.09" r="1.9" fill="#000"/>
<circle cx="101.91" cy="603.53" r="1.9" fill="#000"/>
<circle cx="106.94" cy="603.88" r="1.9" fill="#000"/>
<circle cx="111.98" cy="603.53" r="1.9" fill="#000"/>
<circle cx="117.37" cy="603.88" r="1.9" fill="#000"/>
<circle cx="111.98" cy="606.58" r="1.9" fill="#000"/>
<circle cx="117.37" cy="608.02" r="1.9" fill="#000"/>
<circle cx="101.91" cy="608.92" r="1.9" fill="#000"/>
<circle cx="111.98" cy="608.92" r="1.9" fill="#000"/>
<circle cx="106.94" cy="613.78" r="1.9" fill="#000"/>
<line x1="93.20" y1="579.20" x2="125.60" y2="579.20" stroke="#000" stroke-width="1.9"/>
<rect x="144.20" y="604.30" width="3.40" height="3.40" fill="#000"/>
<rect x="147.90" y="605.20" width="3.40" height="3.40" fill="#000"/>
<rect x="151.70" y="605.90" width="3.40" height="3.40" fill="#000"/>
<rect x="156.60" y="601.20" width="3.40" height="3.40" fill="#000"/>
<rect x="159.30" y="607.70" width="3.40" height="3.40" fill="#000"/>
<rect x="163.20" y="607.50" width="3.40" height="3.40" fill="#000"/>
<rect x="165.90" y="605.70" width="3.40" height="3.40" fill="#000"/>
<rect x="169.80" y="604.30" width="3.40" height="3.40" fill="#000"/>
<rect x="154.80" y="615.60" width="3.40" height="3.40" fill="#000"/>
<line x1="141.90" y1="608.70" x2="174.20" y2="608.70" stroke="#000" stroke-width="1.9"/>
<polygon points="195.00,617.10 192.90,620.78 197.10,620.78" fill="#000"/>
<polygon points="199.00,617.30 196.90,620.98 201.10,620.98" fill="#000"/>
<polygon points="203.00,617.10 200.90,620.78 205.10,620.78" fill="#000"/>
<polygon points="208.00,612.80 205.90,616.48 210.10,616.48" fill="#000"/>
<polygon points="211.00,616.50 208.90,620.18 213.10,620.18" fill="#000"/>
<polygon points="215.00,617.20 212.90,620.88 217.10,620.88" fill="#000"/>
<polygon points="219.00,617.10 216.90,620.78 221.10,620.78" fill="#000"/>
<line x1="190.90" y1="619.20" x2="223.40" y2="619.20" stroke="#000" stroke-width="1.9"/>
<line x1="348.00" y1="515.40" x2="348.00" y2="525.50" stroke="#000" stroke-width="1.1"/>
<line x1="345.40" y1="515.40" x2="350.60" y2="515.40" stroke="#000" stroke-width="1.1"/>
<line x1="363.25" y1="541.30" x2="363.25" y2="551.90" stroke="#000" stroke-width="1.1"/>
<line x1="360.65" y1="541.30" x2="365.85" y2="541.30" stroke="#000" stroke-width="1.1"/>
<line x1="379.60" y1="591.50" x2="379.60" y2="604.70" stroke="#000" stroke-width="1.1"/>
<line x1="377.00" y1="591.50" x2="382.20" y2="591.50" stroke="#000" stroke-width="1.1"/>
<rect x="343.25" y="525.95" width="9.65" height="87.15" fill="#000" stroke="#000" stroke-width="1.0"/>
<rect x="358.45" y="552.35" width="9.75" height="60.75" fill="#fff" stroke="#000" stroke-width="1.0"/>
<rect x="374.85" y="605.15" width="9.65" height="7.95" fill="#d1d1d1" stroke="#000" stroke-width="1.0"/>
<line x1="363.00" y1="613.10" x2="363.00" y2="617.70" stroke="#000" stroke-width="1.3"/>
<text x="363.40" y="634.90" font-size="16.5" font-weight="bold" text-anchor="middle" fill="#000" textLength="45.60" lengthAdjust="spacingAndGlyphs">CCR1</text>
<line x1="404.80" y1="498.30" x2="404.80" y2="507.70" stroke="#000" stroke-width="1.1"/>
<line x1="402.20" y1="498.30" x2="407.40" y2="498.30" stroke="#000" stroke-width="1.1"/>
<line x1="420.25" y1="513.60" x2="420.25" y2="534.60" stroke="#000" stroke-width="1.1"/>
<line x1="417.65" y1="513.60" x2="422.85" y2="513.60" stroke="#000" stroke-width="1.1"/>
<line x1="435.75" y1="590.40" x2="435.75" y2="599.20" stroke="#000" stroke-width="1.1"/>
<line x1="433.15" y1="590.40" x2="438.35" y2="590.40" stroke="#000" stroke-width="1.1"/>
<rect x="399.85" y="508.15" width="10.05" height="104.95" fill="#000" stroke="#000" stroke-width="1.0"/>
<rect x="415.45" y="535.05" width="9.75" height="78.05" fill="#fff" stroke="#000" stroke-width="1.0"/>
<rect x="430.85" y="599.65" width="9.95" height="13.45" fill="#d1d1d1" stroke="#000" stroke-width="1.0"/>
<line x1="419.80" y1="613.10" x2="419.80" y2="617.70" stroke="#000" stroke-width="1.3"/>
<text x="420.20" y="634.90" font-size="16.5" font-weight="bold" text-anchor="middle" fill="#000" textLength="45.60" lengthAdjust="spacingAndGlyphs">CCR2</text>
<line x1="461.60" y1="526.50" x2="461.60" y2="530.00" stroke="#000" stroke-width="1.1"/>
<line x1="459.00" y1="526.50" x2="464.20" y2="526.50" stroke="#000" stroke-width="1.1"/>
<line x1="477.20" y1="522.00" x2="477.20" y2="540.80" stroke="#000" stroke-width="1.1"/>
<line x1="474.60" y1="522.00" x2="479.80" y2="522.00" stroke="#000" stroke-width="1.1"/>
<rect x="456.65" y="530.45" width="10.05" height="82.65" fill="#000" stroke="#000" stroke-width="1.0"/>
<rect x="472.25" y="541.25" width="10.05" height="71.85" fill="#fff" stroke="#000" stroke-width="1.0"/>
<line x1="477.50" y1="613.10" x2="477.50" y2="617.70" stroke="#000" stroke-width="1.3"/>
<text x="477.90" y="634.90" font-size="16.5" font-weight="bold" text-anchor="middle" fill="#000" textLength="45.60" lengthAdjust="spacingAndGlyphs">CCR5</text>
<line x1="334.80" y1="497.70" x2="334.80" y2="613.70" stroke="#000" stroke-width="1.3"/>
<line x1="334.20" y1="613.10" x2="504.40" y2="613.10" stroke="#000" stroke-width="1.3"/>
<line x1="330.40" y1="613.10" x2="334.80" y2="613.10" stroke="#000" stroke-width="1.3"/>
<text x="328.00" y="618.50" font-size="15.2" font-weight="bold" text-anchor="end" fill="#000" textLength="8.80" lengthAdjust="spacingAndGlyphs">0</text>
<line x1="330.40" y1="595.35" x2="334.80" y2="595.35" stroke="#000" stroke-width="1.3"/>
<text x="328.00" y="600.75" font-size="15.2" font-weight="bold" text-anchor="end" fill="#000" textLength="17.60" lengthAdjust="spacingAndGlyphs">10</text>
<line x1="330.40" y1="577.60" x2="334.80" y2="577.60" stroke="#000" stroke-width="1.3"/>
<text x="328.00" y="583.00" font-size="15.2" font-weight="bold" text-anchor="end" fill="#000" textLength="17.60" lengthAdjust="spacingAndGlyphs">20</text>
<line x1="330.40" y1="559.85" x2="334.80" y2="559.85" stroke="#000" stroke-width="1.3"/>
<text x="328.00" y="565.25" font-size="15.2" font-weight="bold" text-anchor="end" fill="#000" textLength="17.60" lengthAdjust="spacingAndGlyphs">30</text>
<line x1="330.40" y1="542.10" x2="334.80" y2="542.10" stroke="#000" stroke-width="1.3"/>
<text x="328.00" y="547.50" font-size="15.2" font-weight="bold" text-anchor="end" fill="#000" textLength="17.60" lengthAdjust="spacingAndGlyphs">40</text>
<line x1="330.40" y1="524.35" x2="334.80" y2="524.35" stroke="#000" stroke-width="1.3"/>
<text x="328.00" y="529.75" font-size="15.2" font-weight="bold" text-anchor="end" fill="#000" textLength="17.60" lengthAdjust="spacingAndGlyphs">50</text>
<line x1="330.40" y1="506.60" x2="334.80" y2="506.60" stroke="#000" stroke-width="1.3"/>
<text x="328.00" y="512.00" font-size="15.2" font-weight="bold" text-anchor="end" fill="#000" textLength="17.60" lengthAdjust="spacingAndGlyphs">60</text>
<text x="293.50" y="617.60" font-size="14.3" font-weight="bold" text-anchor="start" fill="#000" textLength="133.00" lengthAdjust="spacingAndGlyphs" transform="rotate(-90 293.50 617.60)">Downmodulation (%)</text>
<circle cx="492.3" cy="616.7" r="0.6" fill="#555"/>
</svg>
</body>
</html>
